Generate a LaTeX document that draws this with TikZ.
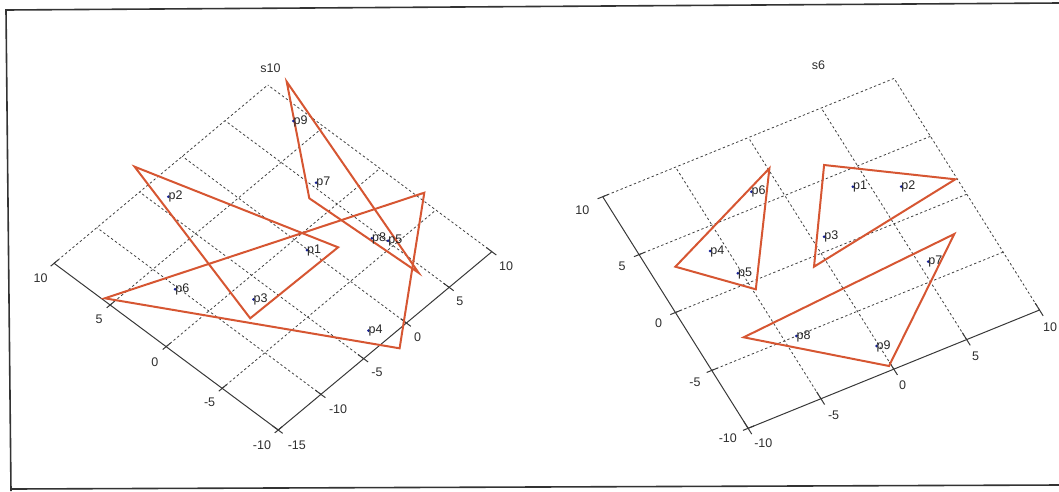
\documentclass[tikz,border=0pt]{standalone}
\usepackage{fontspec}
\setmainfont{Liberation Sans}
\definecolor{tricor}{RGB}{214,86,50}
\definecolor{ptcor}{RGB}{25,35,150}
\begin{document}
\begin{tikzpicture}[x=1pt,y=-1pt]
  \tikzstyle{grade}=[draw, black!75, dash pattern=on 2.4pt off 2.4pt, line width=0.8pt]
  \tikzstyle{eixo}=[draw, black!78, line width=1pt]
  \tikzstyle{moldura}=[draw, black!80, line width=1.6pt]
  \tikzstyle{tri}=[draw, tricor, line width=2pt, line join=miter]
  \tikzstyle{num}=[font=\fontsize{12.5}{14}\selectfont, text=black!82, inner sep=0pt]
  \tikzstyle{lab}=[font=\fontsize{12.5}{14}\selectfont, text=black!85, anchor=west, inner sep=0pt]

  \useasboundingbox (0,0) rectangle (1059,491);
  % moldura da figura digitalizada
  \draw[moldura] (1059,3) -- (6,10) -- (11,491);
  \draw[moldura] (11,489) -- (1059,485);

  % grafico s10: plano do chao com grade
  \begin{scope}[shift={(294.37pt,-239.67pt)}, x={(-11.205pt,8.335pt)}, y={(8.548pt,7.132pt)}]
    \foreach \u in {-5,0,5,10} \draw[grade] (\u,-15) -- (\u,10);
    \foreach \w in {-10,-5,...,10} \draw[grade] (-10,\w) -- (10,\w);
    \draw[eixo] (10,-15) -- (-10,-15) -- (-10,10);
    \foreach \u in {-10,-5,...,10} \draw[eixo] (\u,-15.4) -- (\u,-14.5);
    \foreach \w in {-15,-10,...,10} \draw[eixo] (-10.4,\w) -- (-9.5,\w);
  \end{scope}
  \foreach \x/\y/\t [count=\i] in {40.6/278.3/10, 99.1/319.3/5, 154.8/361.7/0, 209.6/402.7/-5, 262/445/-10,
      296.8/445/-15, 338.1/409.3/-10, 377/372.7/-5, 417.5/337.3/0, 459.8/301.7/5, 506.1/266/10}
    \node[num] (a\i) at (\x,\y) {\t};
  \node[num] (t10) at (270.5,68.3) {s10};

  % triangulos de s10
  \draw[tri] (134.6,166.7) -- (250.2,318.3) -- (338.1,247.3) -- cycle;
  \draw[tri] (104.8,298.3) -- (424.3,192.7) -- (399.6,348.3) -- cycle;
  \draw[tri] (286.7,81.7) -- (309.3,198.3) -- (418.5,272.7) -- cycle;

  % pontos de s10
  \foreach \x/\y/\n in {307/250/1, 168.4/196.7/2, 253.5/299.3/3, 368.5/330.7/4, 388.1/240.7/5,
      175.1/289.3/6, 316.1/182.7/7, 371.9/238.3/8, 293.4/121/9} {
    \fill[ptcor] (\x,\y) circle (1.5pt);
    \node[lab] (s10-p\n) at (\x,\y) {p\n};
  }

  % grafico s6: plano do chao com grade
  \begin{scope}[shift={(821.1pt,-253.35pt)}, x={(-7.27pt,11.58pt)}, y={(14.57pt,5.915pt)}]
    \foreach \u in {-5,0,5,10} \draw[grade] (\u,-10) -- (\u,10);
    \foreach \w in {-5,0,5,10} \draw[grade] (-10,\w) -- (10,\w);
    \draw[eixo] (10,-10) -- (-10,-10) -- (-10,10);
    \foreach \u in {-10,-5,...,10} \draw[eixo] (\u,-10.35) -- (\u,-9.6);
    \foreach \w in {-10,-5,...,10} \draw[eixo] (-10.5,\w) -- (-9.4,\w);
  \end{scope}
  \foreach \x/\y/\t [count=\i] in {582.4/210/10, 622/266.7/5, 658.5/323.3/0, 695/382.7/-5, 727.8/438.3/-10,
      763.3/443.3/-10, 833.6/415/-5, 902.6/385/0, 975.6/356/5, 1050/326.7/10}
    \node[num] (b\i) at (\x,\y) {\t};
  \node[num] (t6) at (818.4,65) {s6};

  % triangulos de s6
  \draw[tri] (769.4,168.3) -- (675.4,266.7) -- (755.8,289.3) -- cycle;
  \draw[tri] (824.1,165) -- (955.3,179.3) -- (814,266.7) -- cycle;
  \draw[tri] (954.3,234) -- (743.7,337.3) -- (889,366) -- cycle;

  % pontos de s6
  \foreach \x/\y/\n in {852.9/186.7/1, 901.2/186.7/2, 824.1/236.7/3, 710.2/251/4, 737.9/273.3/5,
      751.4/191.7/6, 928.2/261.7/7, 796.4/336/8, 876.5/346/9} {
    \fill[ptcor] (\x,\y) circle (1.5pt);
    \node[lab] (s6-p\n) at (\x,\y) {p\n};
  }
\end{tikzpicture}
\end{document}
